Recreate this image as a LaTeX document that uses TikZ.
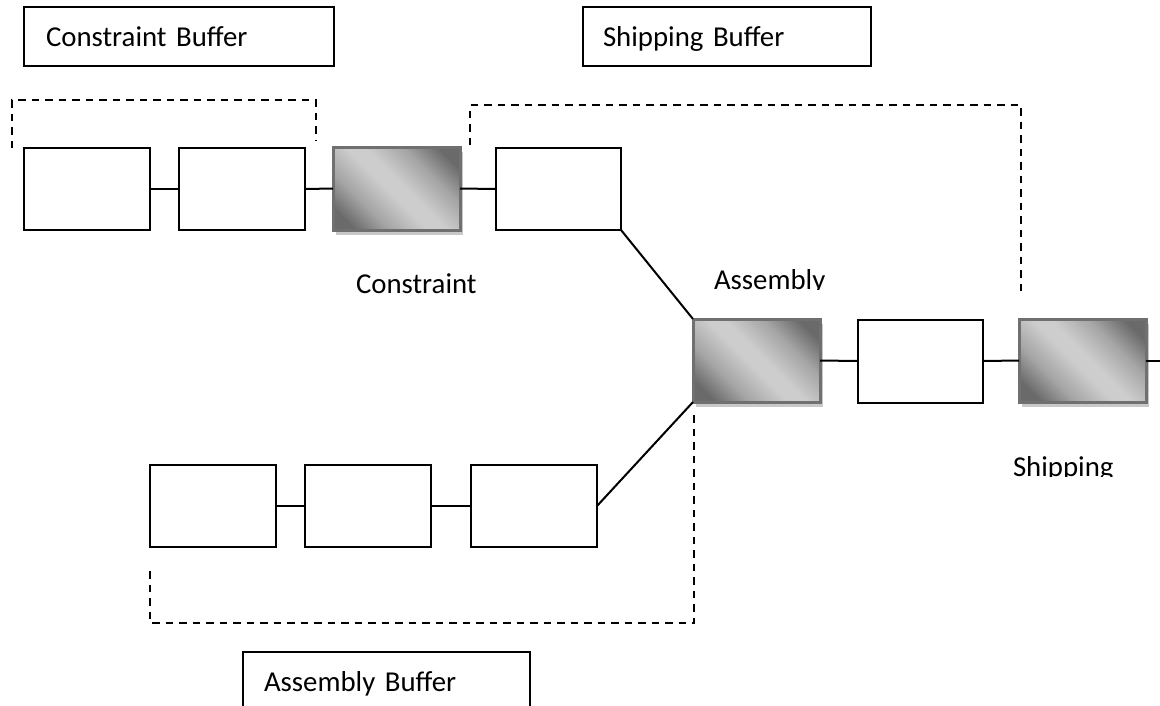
\documentclass[tikz,border=0pt]{standalone}
\usepackage{fontspec}
\setmainfont{Carlito}
\usetikzlibrary{shadows}

\definecolor{gdark}{HTML}{6A6A6A}
\definecolor{gmid}{HTML}{A6A6A6}
\definecolor{glight}{HTML}{CDCDCD}
\definecolor{gborder}{HTML}{707070}
\definecolor{gshadow}{HTML}{C8C8C8}

% diagonal metallic fill: dark at two corners, soft light band across the middle
\pgfdeclarehorizontalshading{metal}{100bp}{%
  color(0bp)=(gdark); color(22bp)=(gdark); color(34bp)=(gmid);
  color(47bp)=(glight); color(53bp)=(glight); color(66bp)=(gmid);
  color(78bp)=(gdark); color(100bp)=(gdark)}

\tikzset{
  x=1pt, y=-1pt,
  every node/.style={inner sep=0pt, outer sep=0pt},
  stationbox/.style={draw=black, line width=2pt, fill=white,
    minimum width=126pt, minimum height=82pt},
  workcell/.style={draw=gborder, line width=3pt, shading=metal, shading angle=45,
    minimum width=127pt, minimum height=83pt,
    general shadow={shadow xshift=3pt, shadow yshift=-5pt, fill=gshadow}},
  bufferbox/.style={draw=black, line width=2pt, anchor=north west,
    minimum height=59pt, text height=20pt, text depth=0pt,
    align=left, font=\fontsize{28.8}{34}\selectfont},
  caption/.style={anchor=base west, font=\fontsize{28.8}{34}\selectfont},
  link/.style={line width=2pt},
  bufferline/.style={line width=2pt, dash pattern=on 7.5pt off 6pt}
}

\begin{document}
\begin{tikzpicture}
\useasboundingbox (0,0) rectangle (1160,705);
\clip (0,0) rectangle (1160,705);

% buffer captions
\node[bufferbox, minimum width=310pt, text width=266pt] (cbuf) at (24,7) {Constraint Buffer};
\node[bufferbox, minimum width=288pt, text width=248pt] (sbuf) at (583,7) {Shipping Buffer};
\node[bufferbox, minimum width=287pt, text width=245pt] (abuf) at (243,652) {Assembly Buffer};

% buffer extents
\draw[bufferline] (12,148) -- (12,100) -- (316,100) -- (316,140);
\draw[bufferline] (470,145) -- (470,105) -- (1021,105) -- (1021,295);
\draw[bufferline] (150,571) -- (150,623) -- (694,623) -- (694,410);

% upper line
\node[stationbox] (a1) at (87,189) {};
\node[stationbox] (a2) at (242,189) {};
\node[workcell] (con) at (396.5,188.5) {};
\node[stationbox, minimum width=125pt] (a4) at (558.5,189) {};

% assembly and shipping
\node[workcell] (asm) at (756.5,360.5) {};
\node[stationbox, minimum width=125pt, minimum height=83pt] (mid) at (920.5,361) {};
\node[workcell] (shp) at (1082.5,360.5) {};
\coordinate (out) at (1160,360.5);

% lower line
\node[stationbox] (b1) at (212.5,506) {};
\node[stationbox] (b2) at (367.5,506) {};
\node[stationbox] (b3) at (534,506) {};

% connectors
\draw[link] (a1.east) -- (a2.west);
\draw[link] (a2.east) -- (con.west);
\draw[link] (con.east) -- (a4.west);
\draw[link] (a4.south east) -- (asm.north west);
\draw[link] (b1.east) -- (b2.west);
\draw[link] (b2.east) -- (b3.west);
\draw[link] (b3.east) -- (asm.south west);
\draw[link] (asm.east) -- (mid.west);
\draw[link] (mid.east) -- (shp.west);
\draw[link] (shp.east) -- (out);

% station captions
\node[caption] (lcon) at (356,293) {Constraint};
\begin{scope}
  \clip (700,250) rectangle (860,289);
  \node[caption] (lasm) at (714,289) {Assembly};
\end{scope}
\begin{scope}
  \clip (1000,440) rectangle (1160,476);
  \node[caption] (lshp) at (1013,476) {Shipping};
\end{scope}
\end{tikzpicture}
\end{document}
